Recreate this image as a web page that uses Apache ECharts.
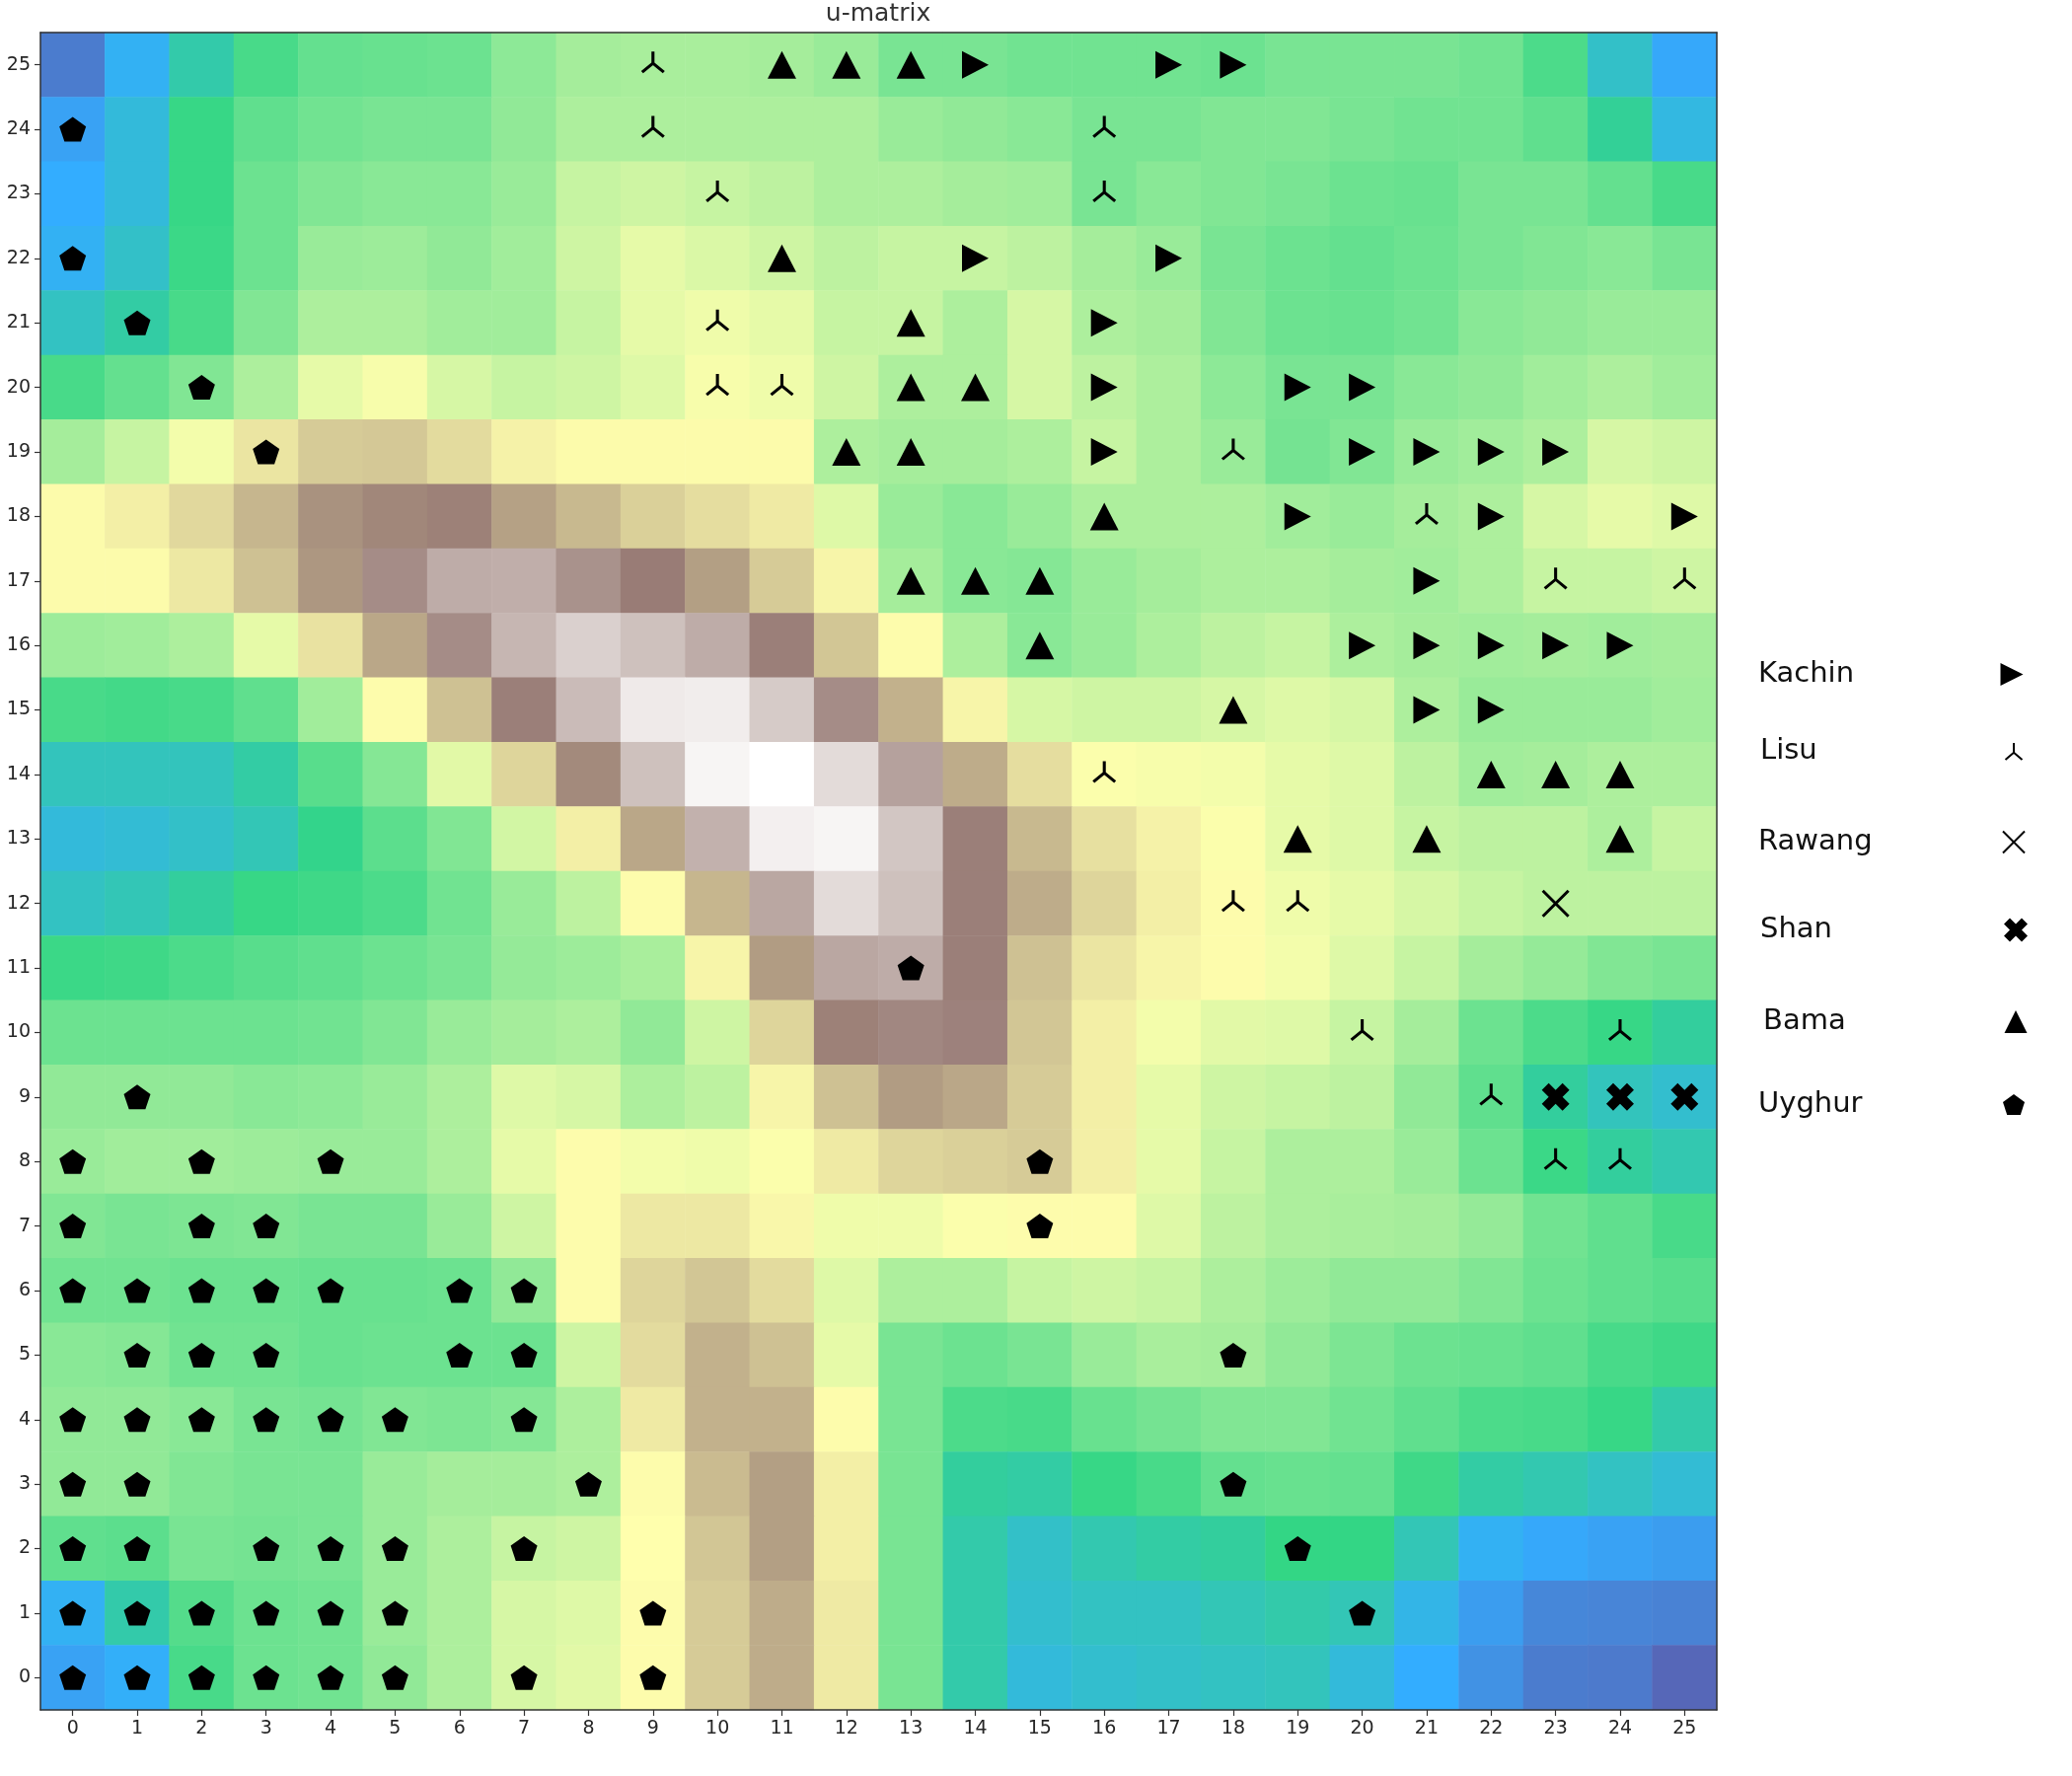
<!DOCTYPE html>
<html><head><meta charset="utf-8">
<style>html,body{margin:0;padding:0;background:#fff}#c{width:2100px;height:1800px}</style>
<script src="https://cdn.jsdelivr.net/npm/echarts@6/dist/echarts.min.js"></script>
</head><body><div id="c"></div>
<script>
const tickLabels = Array.from({length:26},(_,i)=>String(i));
// u-matrix values (0-100), listed from row 25 (top) to row 0 (bottom)
const uMatrixRows = [
[6,16,22,27.5,31,31.5,32,36,39,39.5,39.5,39,37.5,33.5,33.5,32.5,32.5,32.5,32,33.5,33.5,33.5,32.5,28,19.5,14],
[13,18,25.5,30.5,32.5,33.5,33.5,36.5,40,40,40,40,40,37.5,36.5,35.5,33.5,33.5,34.5,34.5,33.5,32.5,32.5,30.5,23.5,17.5],
[15,18,25.5,32,34.5,35.5,35.5,37.5,43,44,43,42,40,40,39,38.5,33.5,35.5,34.5,33.5,32,31.5,33.5,33.5,31,27.5],
[16,19.5,26,32,37.5,38,36.5,38.5,44,47,45.5,44,42,43,43,42,39,37.5,33.5,32,31,32,33.5,34.5,35.5,33.5],
[20,22.5,27.5,34.5,40,40,38.5,38.5,43,47,48,47,43,43,40,45,40,39,34.5,32,31.5,32.5,35.5,36.5,37.5,37.5],
[27.5,31,34.5,40,47,49,45,43,44,46,49,48,44,40,40,45,42,40,36,33.5,33.5,35.5,36.5,38.5,40,38.5],
[39,43,48.5,55,60,60.5,57,52.5,50.7,50.7,50.7,50.7,40,39,39,40,43,40,37.5,33,34.5,37.5,38.5,40,45,44],
[50.7,53,57.5,64,71,73,74,68,63.5,59,56.5,54,46,37.5,35.5,37.5,40,40,40,38.5,37.5,39,40,45,47,46],
[50.7,50.7,54.5,62,70,78,84,84.5,79,75,68.5,60,52,39,35.5,35,37.5,39,40,40,39,38.5,40,43,43,44],
[38,38.5,40,47,55.5,67,78,86,91,88,84,75.5,61,50.5,40,35.5,37.5,40,42,43,40,39,38.5,39,38.5,39],
[27.5,27,27.5,30.5,38.5,50.5,62,75.5,87,96,96.5,90,78,65,52,45,44,44,45,46,45,40,37.5,37.5,37.5,38.5],
[20.5,20.5,20.5,22.5,29.5,35,46.5,58,72.5,88,98,100,93,82,66,56.5,49.5,49,48.5,47,46,42,38.5,39,40,40],
[18,18.5,19.5,21,24.5,30,34.5,44.5,53,67,85,97,98,89,75.5,63.5,56,52.5,49.5,47,46,43,42,42,40,43],
[20,21,23,25.5,26.5,28,32.5,37.5,42,50.5,64,83,93,88,75.5,66,58,53,50.5,48,47,45,43,42,42,42],
[26,26.5,28,29.5,30.5,32,33.5,37,38,39.5,52,69,83,84,75.5,62,55,52,50.5,48.5,46,43,39,37,34.5,33.5],
[32,32,32,32,32.5,34.5,37.5,39,40,36.5,44,58,74,77,76,61,53,48.5,46.5,46,43,39,32,28,25.5,23],
[36.5,36.5,36.5,35.5,36,37.5,40,46,45,40,42,52,62,69,67,60,53,47,44,43,42,36.5,30.5,23,20.5,19],
[37.5,38.5,38.5,38,37.5,37.5,40,47,50.5,48.5,48,49.5,54,58,59,60,53,47,43,40,40,37.5,32,26,23,21.5],
[34.5,33.5,34,34.5,33.5,33.5,37.5,44,50.5,54.5,54.5,51.5,48,48,49.5,50.5,50.5,46,42,40,39.5,39,37,32.5,30.5,27.5],
[32.5,32.5,32,32,31.5,31.5,32,36.5,50.5,58,61,57,46,40,40,43,44,43,40,38,36.5,36.5,34.5,32,30.5,29.5],
[35.5,35,32.5,32.5,31.5,32,32,32,44,57,65,62,47,33.5,32,33.5,37.5,39.5,39,36.5,34,32,31.5,30.5,27.5,26.5],
[36.5,36.5,35.5,33.5,33,34.5,34,35,40,54,65,65,50.5,33.5,28,27.5,31.5,33,34.5,34.5,32.5,30.5,28,27.5,25.5,22],
[36.5,36.5,34.5,33.5,33.5,37.5,39,39,40,50.5,63,68.5,53,33.5,23,22.5,25.5,27.5,31,31.5,31,26.5,22.5,21.5,20,18.5],
[30.5,30,33.5,33,33.5,37.5,40,43,44,50,61,68.5,53,33.5,22,19.5,21.5,22.5,23,25,25,21,16,14,13,12],
[16,22,29,32,32.5,37.5,40,45,46,50.5,60,66,54,33.5,22,19,20,20,21,22,21,17,12,8,7.5,7],
[13,15.5,27.5,32,32.5,36.5,40,45,46.5,50.5,60,66,54,33.5,22,18,19,19.5,20,20.5,18,15,10,6,5.5,2]
];
// markers: [column, row]
const kachin = [[14,25],[17,25],[18,25],[14,22],[17,22],[16,21],[16,20],[19,20],[20,20],[16,19],[20,19],[21,19],[22,19],[23,19],[19,18],[22,18],[25,18],[21,17],[20,16],[21,16],[22,16],[23,16],[24,16],[21,15],[22,15]];
const lisu = [[9,25],[9,24],[10,23],[10,21],[10,20],[11,20],[16,24],[16,23],[16,14],[18,19],[18,12],[19,12],[21,18],[23,17],[25,17],[20,10],[24,10],[22,9],[23,8],[24,8]];
const rawang = [[23,12]];
const shan = [[23,9],[24,9],[25,9]];
const bama = [[11,25],[12,25],[13,25],[11,22],[13,21],[13,20],[14,20],[12,19],[13,19],[16,18],[13,17],[14,17],[15,17],[15,16],[18,15],[22,14],[23,14],[24,14],[19,13],[21,13],[24,13]];
const uyghur = [[0,24],[0,22],[1,21],[2,20],[3,19],[13,11],[1,9],[0,8],[2,8],[4,8],[15,8],[0,7],[2,7],[3,7],[15,7],[0,6],[1,6],[2,6],[3,6],[4,6],[6,6],[7,6],[1,5],[2,5],[3,5],[6,5],[7,5],[18,5],[0,4],[1,4],[2,4],[3,4],[4,4],[5,4],[7,4],[0,3],[1,3],[8,3],[18,3],[0,2],[1,2],[3,2],[4,2],[5,2],[7,2],[19,2],[0,1],[1,1],[2,1],[3,1],[4,1],[5,1],[9,1],[20,1],[0,0],[1,0],[2,0],[3,0],[4,0],[5,0],[7,0],[9,0]];

// matplotlib "terrain" colour map at alpha 0.8 over white
const knots = [[0,.2,.2,.6],[15,0,.6,1],[25,0,.8,.4],[50,1,1,.6],[75,.5,.36,.33],[100,1,1,1]];
function terrain(v){
  let i=0; while(i<knots.length-2 && v>knots[i+1][0]) i++;
  const a=knots[i],b=knots[i+1],t=(v-a[0])/(b[0]-a[0]);
  const ch=k=>Math.round(((a[k]+(b[k]-a[k])*t)*0.8+0.2)*255);
  return `rgb(${ch(1)},${ch(2)},${ch(3)})`;
}
const palette=[]; for(let v=0;v<=100;v+=5) palette.push(terrain(v));

const cells=[];
uMatrixRows.forEach((r,ri)=>r.forEach((v,c)=>cells.push([c,25-ri,v])));

const FONT='"DejaVu Sans"', INK='#262626';
const S={
 Kachin:{data:kachin,symbol:'path://M0 0L100 50L0 100Z',size:[27,28],fill:true,lw:[23,23],pos:[1782,669],tx:2039},
 Lisu:{data:lisu,symbol:'path://M50 0L50 57M50 57L0 100M50 57L100 100',size:[22,21],fill:false,offset:[0,-3],lw:[20,17],pos:[1784,747],tx:2041},
 Rawang:{data:rawang,symbol:'path://M0 0L100 100M100 0L0 100',size:[26,26],fill:false,lw:[22,22],pos:[1782,839],tx:2041},
 Shan:{data:shan,symbol:'path://M25 0L50 25L75 0L100 25L75 50L100 75L75 100L50 75L25 100L0 75L25 50L0 25Z',size:[28,28],fill:true,lw:[25,24],pos:[1784,928],tx:2043},
 Bama:{data:bama,symbol:'path://M50 0L100 100L0 100Z',size:[29,28],fill:true,lw:[23,23],pos:[1787,1021],tx:2043},
 Uyghur:{data:uyghur,symbol:'path://M0 -100L95.1 -30.9L58.8 80.9L-58.8 80.9L-95.1 -30.9Z',size:[27,25],fill:true,lw:[22,21],pos:[1782,1105],tx:2041}
};

const names=Object.keys(S);
const scatter=names.map(n=>{const s=S[n];return {
  name:n,type:'scatter',xAxisIndex:0,yAxisIndex:0,data:s.data,symbol:s.symbol,symbolSize:s.size,
  symbolOffset:s.offset||[0,0],z:5,silent:true,
  itemStyle:s.fill?{color:'#000',opacity:1}:{color:'rgba(0,0,0,0)',borderColor:'#000',borderWidth:3,opacity:1}
};});
const legends=names.map(n=>{const s=S[n];
  return {show:true,data:[{name:n}],orient:'vertical',left:s.pos[0],top:s.pos[1],align:'right',selectedMode:false,
    itemWidth:s.lw[0],itemHeight:s.lw[1],padding:0,
    formatter:'{a|'+n+'}',
    textStyle:{rich:{a:{fontFamily:FONT,fontSize:29,color:'#111',width:s.tx-s.lw[0]/2-5-s.pos[0],align:'left',height:34}}}
  };});

const chart=echarts.init(document.getElementById('c'),null,{renderer:'canvas',width:2100,height:1800});
const axisBase={type:'category',data:tickLabels,z:10,splitLine:{show:false},
  axisLine:{show:true,onZero:false,lineStyle:{color:'#333',width:1.5}}};
chart.setOption({
 animation:false,backgroundColor:'#fff',
 title:{text:'u-matrix',left:885,top:-3,textAlign:'center',textStyle:{fontFamily:FONT,fontSize:25,fontWeight:'normal',color:'#333'}},
 grid:{left:41,top:33,width:1699,height:1700,containLabel:false},
 xAxis:[
  {...axisBase,position:'bottom',axisTick:{show:true,alignWithLabel:true,length:6,lineStyle:{color:'#333',width:1.2}},
   axisLabel:{fontFamily:FONT,fontSize:19,color:INK,margin:10,interval:0}},
  {...axisBase,position:'top',axisTick:{show:false},axisLabel:{show:false}}
 ],
 yAxis:[
  {...axisBase,position:'left',axisTick:{show:true,alignWithLabel:true,length:6,lineStyle:{color:'#333',width:1.2}},
   axisLabel:{fontFamily:FONT,fontSize:19,color:INK,margin:10,interval:0}},
  {...axisBase,position:'right',axisTick:{show:false},axisLabel:{show:false}}
 ],
 visualMap:{show:false,type:'continuous',dimension:2,seriesIndex:0,min:0,max:100,inRange:{color:palette}},
 legend:legends,
 series:[{type:'heatmap',xAxisIndex:0,yAxisIndex:0,data:cells,z:2,silent:true,itemStyle:{borderWidth:0},progressive:0}].concat(scatter)
});
</script></body></html>
